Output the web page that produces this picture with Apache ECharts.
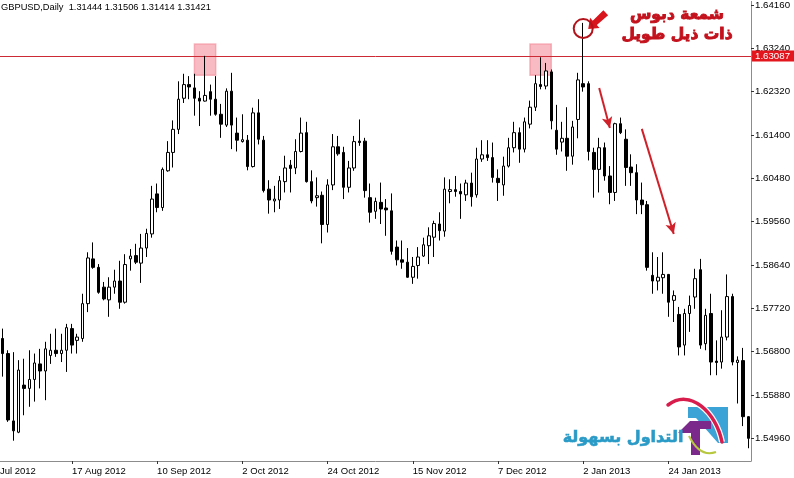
<!DOCTYPE html>
<html><head><meta charset="utf-8">
<script src="https://cdn.jsdelivr.net/npm/echarts@6/dist/echarts.min.js"></script>
<style>html,body{margin:0;padding:0;background:#fff}#c{width:794px;height:478px}</style>
</head><body><div id="c"></div>
<script>
// ---------- DATA ----------
const HOLIDAYS = ['2012-12-25', '2013-01-01'];
const FIRST_DAY = [2012, 6, 26];      // 26 Jul 2012 : first date label, LEAD bars before the first candle
const LEAD = 3;
const tickLabels = ['26 Jul 2012','17 Aug 2012','10 Sep 2012','2 Oct 2012','24 Oct 2012','15 Nov 2012','7 Dec 2012','2 Jan 2013','24 Jan 2013'];
const yTicks = [1.54960,1.55880,1.56800,1.57720,1.58640,1.59560,1.60480,1.61400,1.62320,1.63240,1.64160];
const resistance = 1.63087;

const open = [
1.5708,1.5676,1.5533,1.5509,1.5609,1.5602,1.5621,1.5654,1.5639,1.5672,
1.5683,1.5676,1.5683,1.5729,1.5704,1.5708,1.5782,1.5877,1.5859,1.5817,
1.5790,1.5817,1.5830,1.5785,1.5877,1.5884,1.5868,1.5900,1.5930,1.6015,
1.5986,1.6064,1.6103,1.6152,1.6218,1.6247,1.6240,1.6218,1.6212,1.6232,
1.6216,1.6184,1.6161,1.6233,1.6144,1.6126,1.6129,1.6073,1.6187,1.6129,
1.6025,1.6000,1.6002,1.6041,1.6076,1.6070,1.6105,1.6145,1.6041,1.6007,
1.6012,1.5950,1.6034,1.6115,1.6103,1.6029,1.6070,1.6127,1.6127,1.6007,
1.5978,1.5997,1.5985,1.5979,1.5902,1.5875,1.5870,1.5838,1.5863,1.5883,
1.5905,1.5923,1.5951,1.5936,1.6020,1.6024,1.6020,1.6013,1.6038,1.6013,
1.6089,1.6098,1.6092,1.6048,1.6034,1.6074,1.6113,1.6145,1.6110,1.6163,
1.6199,1.6247,1.6244,1.6274,1.6150,1.6125,1.6133,1.6095,1.6173,1.6249,
1.6249,1.6103,1.6067,1.6113,1.6053,1.6018,1.6164,1.6131,1.6072,1.6060,
1.6002,1.5992,1.5842,1.5830,1.5837,1.5844,1.5789,1.5759,1.5694,1.5761,
1.5796,1.5854,1.5697,1.5761,1.5660,1.5658,1.5711,1.5797,1.5657,1.5661,
1.5542];
const close = [
1.5676,1.5535,1.5512,1.5641,1.5602,1.5621,1.5656,1.5639,1.5686,1.5683,
1.5676,1.5683,1.5731,1.5694,1.5711,1.5782,1.5879,1.5859,1.5806,1.5792,
1.5817,1.5830,1.5785,1.5865,1.5883,1.5870,1.5900,1.5931,1.6004,1.5986,
1.6067,1.6103,1.6152,1.6216,1.6247,1.6242,1.6218,1.6212,1.6224,1.6216,
1.6184,1.6163,1.6233,1.6161,1.6129,1.6130,1.6073,1.6187,1.6131,1.6022,
1.6002,1.6004,1.6043,1.6070,1.6069,1.6105,1.6144,1.6041,1.6000,1.6011,
1.5950,1.6034,1.6115,1.6100,1.6029,1.6070,1.6126,1.6124,1.6022,1.5976,
1.5999,1.5983,1.5981,1.5893,1.5875,1.5870,1.5838,1.5861,1.5881,1.5907,
1.5926,1.5952,1.5937,1.6025,1.6024,1.6020,1.6015,1.6038,1.6009,1.6089,
1.6098,1.6092,1.6050,1.6039,1.6074,1.6113,1.6145,1.6110,1.6168,1.6199,
1.6249,1.6243,1.6276,1.6170,1.6110,1.6133,1.6095,1.6157,1.6257,1.6242,
1.6105,1.6067,1.6113,1.6053,1.6018,1.6164,1.6145,1.6071,1.6060,1.6002,
1.5992,1.5859,1.5830,1.5838,1.5844,1.5785,1.5799,1.5690,1.5761,1.5778,
1.5835,1.5694,1.5757,1.5658,1.5657,1.5711,1.5797,1.5658,1.5662,1.5542,
1.5496];
const low = [
1.5627,1.5531,1.5491,1.5507,1.5545,1.5563,1.5574,1.5602,1.5577,1.5654,
1.5669,1.5658,1.5637,1.5676,1.5676,1.5701,1.5764,1.5856,1.5803,1.5789,
1.5754,1.5803,1.5771,1.5782,1.5852,1.5866,1.5826,1.5881,1.5922,1.5976,
1.5979,1.6062,1.6071,1.6142,1.6208,1.6216,1.6181,1.6159,1.6211,1.6181,
1.6181,1.6134,1.6157,1.6110,1.6105,1.6124,1.6065,1.6071,1.6120,1.6018,
1.5973,1.5976,1.5983,1.6018,1.6018,1.6057,1.6103,1.6039,1.5995,1.5988,
1.5910,1.5933,1.6023,1.6096,1.6004,1.6018,1.6064,1.6117,1.6007,1.5954,
1.5962,1.5951,1.5926,1.5886,1.5863,1.5856,1.5837,1.5824,1.5835,1.5881,
1.5866,1.5881,1.5916,1.5924,1.5995,1.6009,1.5962,1.6000,1.5988,1.6007,
1.6083,1.6085,1.6039,1.6000,1.6011,1.6071,1.6103,1.6081,1.6103,1.6154,
1.6191,1.6237,1.6237,1.6152,1.6098,1.6105,1.6064,1.6077,1.6133,1.6232,
1.6086,1.6007,1.6018,1.6043,1.5993,1.6000,1.6142,1.6032,1.6032,1.5972,
1.5972,1.5852,1.5803,1.5810,1.5803,1.5754,1.5743,1.5672,1.5672,1.5722,
1.5771,1.5686,1.5683,1.5630,1.5630,1.5644,1.5704,1.5651,1.5570,1.5522,
1.5475];
const high = [
1.5729,1.5683,1.5679,1.5662,1.5665,1.5683,1.5676,1.5686,1.5701,1.5718,
1.5729,1.5718,1.5739,1.5739,1.5718,1.5803,1.5891,1.5912,1.5866,1.5828,
1.5838,1.5854,1.5873,1.5887,1.5898,1.5909,1.5930,1.5941,1.6032,1.6037,
1.6071,1.6127,1.6171,1.6254,1.6270,1.6265,1.6270,1.6233,1.6308,1.6247,
1.6265,1.6206,1.6239,1.6272,1.6177,1.6184,1.6140,1.6198,1.6216,1.6138,
1.6044,1.6032,1.6053,1.6096,1.6087,1.6131,1.6177,1.6168,1.6065,1.6050,
1.6020,1.6046,1.6142,1.6138,1.6115,1.6085,1.6138,1.6173,1.6134,1.6037,
1.6007,1.6039,1.6004,1.6016,1.5916,1.5916,1.5900,1.5881,1.5902,1.5922,
1.5944,1.5958,1.5976,1.6050,1.6046,1.6053,1.6037,1.6045,1.6060,1.6113,
1.6129,1.6129,1.6124,1.6067,1.6094,1.6134,1.6168,1.6156,1.6177,1.6213,
1.6267,1.6305,1.6293,1.6279,1.6204,1.6168,1.6199,1.6170,1.6272,1.6378,
1.6254,1.6113,1.6134,1.6124,1.6074,1.6166,1.6177,1.6152,1.6099,1.6078,
1.6039,1.6000,1.5891,1.5881,1.5891,1.5845,1.5810,1.5775,1.5771,1.5799,
1.5856,1.5877,1.5771,1.5803,1.5704,1.5768,1.5844,1.5803,1.5670,1.5688,
1.5543];

// annotation anchors (bar index, price)
const topBoxes = [[36, 40, 1.6333, 1.6267], [99, 103, 1.6333, 1.6267]];
const pinBar = 109, pinCircleY = 1.6366;
const arrowsDown = [[[112, 1.6240], [114, 1.6155]], [[120, 1.6153], [126, 1.5930]]];

// ---------- categories ----------
const MONTHS = ['Jan','Feb','Mar','Apr','May','Jun','Jul','Aug','Sep','Oct','Nov','Dec'];
const allDates = [];
{
  const d = new Date(Date.UTC(FIRST_DAY[0], FIRST_DAY[1], FIRST_DAY[2]));
  const need = LEAD + open.length;
  while (allDates.length < need) {
    const wd = d.getUTCDay(), iso = d.toISOString().slice(0, 10);
    if (wd !== 0 && wd !== 6 && HOLIDAYS.indexOf(iso) < 0)
      allDates.push(d.getUTCDate() + ' ' + MONTHS[d.getUTCMonth()] + ' ' + d.getUTCFullYear());
    d.setUTCDate(d.getUTCDate() + 1);
  }
}
const categories = allDates.slice(LEAD);
const candles = categories.map((c, i) => [open[i], close[i], low[i], high[i]]);

const FONT = 'Liberation Sans';
const tickSet = new Set(tickLabels);
const chart = echarts.init(document.getElementById('c'), null, {renderer: 'canvas'});
chart.setOption({
  animation: false,
  backgroundColor: '#ffffff',
  grid: {left: 0, right: 43, top: 0, bottom: 17, containLabel: false},
  xAxis: {
    type: 'category', data: categories, boundaryGap: true,
    axisLine: {show: true, lineStyle: {color: '#8c8c8c', width: 1}},
    axisTick: {show: true, alignWithLabel: true, length: 3, interval: (i, v) => tickSet.has(v), lineStyle: {color: '#333'}},
    axisLabel: {interval: (i, v) => tickSet.has(v), align: 'left', margin: 5, color: '#000', fontFamily: FONT, fontSize: 9.5},
    splitLine: {show: false}
  },
  yAxis: {
    type: 'value', position: 'right', scale: true, min: 1.54479, max: 1.64237,
    axisLine: {show: true, lineStyle: {color: '#8c8c8c', width: 1}},
    axisTick: {show: true, length: 3, customValues: yTicks, lineStyle: {color: '#333'}},
    axisLabel: {customValues: yTicks, formatter: v => v.toFixed(5), margin: 4, color: '#000', fontFamily: FONT, fontSize: 9.7},
    splitLine: {show: false}
  },
  series: [
    {
      type: 'candlestick', data: candles, barWidth: 3, z: 3,
      itemStyle: {color: '#ffffff', color0: '#000000', borderColor: '#000000', borderColor0: '#000000', borderColorDoji: '#000000', borderWidth: 1},
      markArea: {
        silent: true,
        itemStyle: {color: 'rgba(242,120,135,0.5)', borderColor: 'rgba(242,120,135,0.5)', borderWidth: 1.5},
        data: topBoxes.map(b => [{xAxis: categories[b[0]], yAxis: b[2]}, {xAxis: categories[b[1]], yAxis: b[3]}])
      },
      markPoint: {
        silent: true,
        label: {show: false},
        data: [
          {coord: [categories[pinBar], pinCircleY], symbol: 'circle', symbolSize: 19,
           itemStyle: {color: 'rgba(0,0,0,0)', borderColor: '#b3141c', borderWidth: 2}}
        ]
      },
      markLine: {
        silent: true,
        symbol: ['none', 'arrow'], symbolSize: [8, 11],
        label: {show: false},
        lineStyle: {color: '#d0202a', width: 2, type: 'solid'},
        data: arrowsDown.map(a => [{coord: [categories[a[0][0]], a[0][1]]}, {coord: [categories[a[1][0]], a[1][1]]}])
      }
    }
  ]
});

// ---------- annotations positioned from the axes ----------
const px0 = chart.convertToPixel({xAxisIndex: 0}, categories[0]);
const band = chart.convertToPixel({xAxisIndex: 0}, categories[1]) - px0;
const axisY = chart.convertToPixel({yAxisIndex: 0}, 1.54479);
const gridRight = chart.convertToPixel({xAxisIndex: 0}, categories[categories.length - 1]) + band / 2;
const resY = Math.round(chart.convertToPixel({yAxisIndex: 0}, resistance)) + 0.5;
const firstLabelX = px0 - LEAD * band;
const pin = chart.convertToPixel({xAxisIndex: 0, yAxisIndex: 0}, [categories[pinBar], pinCircleY]);
// block arrow pointing at the circle from the upper right
const T = [pin[0] + 5, pin[1] + 0.5];
const d = [-0.73, 0.68], n = [0.68, 0.73];
const B = [T[0] - d[0] * 9, T[1] - d[1] * 9];
const C = [T[0] - d[0] * 24, T[1] - d[1] * 24];
const P = (p, v, k) => [p[0] + v[0] * k, p[1] + v[1] * k];
const arrowPts = [T, P(B, n, 7), P(B, n, 3), P(C, n, 3.5), P(C, n, -3.5), P(B, n, -3), P(B, n, -7)];

chart.setOption({
  graphic: [
    {type: 'line', silent: true, z: 2, shape: {x1: 0, y1: resY, x2: gridRight, y2: resY}, style: {stroke: '#cc2a34', lineWidth: 1}},
    {type: 'rect', silent: true, z: 5, shape: {x: gridRight + 1, y: resY - 6, width: 42, height: 11}, style: {fill: '#e3161e'}},
    {type: 'text', silent: true, z: 6, x: gridRight + 4, y: resY, style: {text: resistance.toFixed(5), font: '9.7px "Liberation Sans"', fill: '#fff', align: 'left', verticalAlign: 'middle'}},
    {type: 'text', x: firstLabelX, y: axisY + 5, silent: true,
     style: {text: tickLabels[0], font: '9.5px "Liberation Sans"', fill: '#000', align: 'left', verticalAlign: 'top'}},
    {type: 'line', silent: true, shape: {x1: firstLabelX, y1: axisY, x2: firstLabelX, y2: axisY + 3}, style: {stroke: '#333'}},
    {type: 'text', left: 1, top: 3, silent: true,
     style: {text: 'GBPUSD,Daily  1.31444 1.31506 1.31414 1.31421', font: '9.3px "Liberation Sans"', fill: '#000'}},
    {type: 'polygon', silent: true, shape: {points: arrowPts}, style: {fill: '#d8141c'}},
    {type: 'text', x: 677, y: 15, silent: true,
     style: {text: 'شمعة دبوس', font: 'bold 15.5px "DejaVu Sans"', fill: '#c3121d', stroke: '#c3121d', lineWidth: 0.9, align: 'center', verticalAlign: 'middle'}},
    {type: 'text', x: 677, y: 35, silent: true,
     style: {text: 'ذات ذيل طويل', font: 'bold 15.5px "DejaVu Sans"', fill: '#c3121d', stroke: '#c3121d', lineWidth: 0.9, align: 'center', verticalAlign: 'middle'}},
    // logo
    {type: 'polygon', silent: true, shape: {points: [[688,407],[728,407],[728,443],[718,443],[696,418],[688,418]]}, style: {fill: '#3ba3d6'}},
    {type: 'polygon', silent: true, shape: {points: [[678,433],[690,421],[711,421],[711,429],[700,429],[700,455],[691,455],[691,433]]}, style: {fill: '#7b2a8c'}},
    {type: 'bezierCurve', silent: true, shape: {x1: 668, y1: 405, cpx1: 690, cpy1: 388, cpx2: 716, cpy2: 412, x2: 722, y2: 442}, style: {stroke: '#ffffff', lineWidth: 6, fill: null}},
    {type: 'bezierCurve', silent: true, shape: {x1: 668, y1: 405, cpx1: 690, cpy1: 388, cpx2: 716, cpy2: 412, x2: 722, y2: 442}, style: {stroke: '#d81d4c', lineWidth: 3.5, fill: null, lineCap: 'round'}},
    {type: 'bezierCurve', silent: true, shape: {x1: 689, y1: 436, cpx1: 696, cpy1: 450, cpx2: 705, cpy2: 456, x2: 716, y2: 452}, style: {stroke: '#b8c83e', lineWidth: 2, fill: null}},
    {type: 'text', x: 623, y: 438, silent: true,
     style: {text: 'التداول بسهولة', font: 'bold 16px "DejaVu Sans"', fill: '#2a9ac6', stroke: '#2a9ac6', lineWidth: 0.6, align: 'center', verticalAlign: 'middle'}}
  ]
});
</script>
</body></html>
